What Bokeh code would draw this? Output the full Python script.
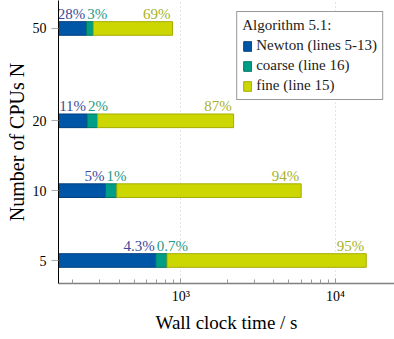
from bokeh.plotting import figure
from bokeh.models import Range1d, FixedTicker, ColumnDataSource, BasicTickFormatter
from bokeh.core.properties import value
from bokeh.embed import file_html
from bokeh.resources import INLINE

# ---- data ----
cpus = [5, 10, 20, 50]
newton = [690, 326, 248, 245]       # wall clock seconds
coarse = [125, 60, 42, 27]
fine = [14985, 5614, 1905, 612]
newton_pct = ["4.3%", "5%", "11%", "28%"]
coarse_pct = ["0.7%", "1%", "2%", "3%"]
fine_pct = ["95%", "94%", "87%", "69%"]
series_names = ["Newton (lines 5-13)", "coarse (line 16)", "fine (line 15)"]
x_tick_vals = [1000, 10000]
x_tick_text = ["10³", "10⁴"]

# ---- styles ----
FONT = "Liberation Serif"
fills = ["#0056a6", "#009e86", "#ccd600"]
lines = ["#003f7c", "#00745f", "#a6ad00"]
text_cols = ["#3d4b9b", "#1f9a86", "#a8b227"]
bar_f = 1.07
base = 1.0

n_end = newton
c_end = [a + b for a, b in zip(newton, coarse)]
t_end = [a + b for a, b in zip(c_end, fine)]
src = ColumnDataSource(dict(
    cpus=cpus,
    bottom=[c / bar_f for c in cpus],
    top=[c * bar_f for c in cpus],
    base=[base] * len(cpus),
    n_end=n_end, c_end=c_end, t_end=t_end,
    npct=newton_pct, cpct=coarse_pct, fpct=fine_pct,
))

p = figure(width=394, height=339, x_axis_type="log", y_axis_type="log",
           x_range=Range1d(162, 24060), y_range=Range1d(3.98, 66.0),
           output_backend="svg", toolbar_location=None,
           min_border_left=58, min_border_right=0, min_border_top=0,
           min_border_bottom=56)
p.outline_line_color = None
p.background_fill_color = "white"

lefts = ["base", "n_end", "c_end"]
rights = ["n_end", "c_end", "t_end"]
for i in range(3):
    p.quad(left=lefts[i], right=rights[i], bottom="bottom", top="top", source=src,
           fill_color=fills[i], line_color=lines[i], line_width=1,
           legend_label=series_names[i])

common = dict(source=src, y="top", text_font=value(FONT), text_font_size="15px",
              text_baseline="bottom", y_offset=0)
p.text(x="n_end", text="npct", text_align="right", x_offset=-1,
       text_color=text_cols[0], **common)
p.text(x="n_end", text="cpct", text_align="left", x_offset=1,
       text_color=text_cols[1], **common)
p.text(x="t_end", text="fpct", text_align="right", x_offset=-2,
       text_color=text_cols[2], **common)

# x axis
xa = p.xaxis[0]
xa.ticker = FixedTicker(ticks=x_tick_vals,
                        minor_ticks=[m * 10 ** e for e in (2, 3) for m in range(2, 10)])
xa.major_label_overrides = {v: t for v, t in zip(x_tick_vals, x_tick_text)}
xa.axis_label = "Wall clock time / s"
xa.axis_line_color = "#808080"
xa.axis_line_width = 1.5
xa.major_tick_in = 5
xa.major_tick_out = 0
xa.minor_tick_in = 4
xa.minor_tick_out = 0
xa.major_tick_line_color = "#999999"
xa.minor_tick_line_color = "#999999"
xa.major_label_standoff = 5
xa.axis_label_standoff = 5
xa.axis_label_text_font_size = "19px"

# y axis
ya = p.yaxis[0]
ya.ticker = FixedTicker(ticks=cpus, minor_ticks=[])
ya.formatter = BasicTickFormatter()
ya.axis_label = "Number of CPUs N"
ya.axis_line_color = "black"
ya.major_tick_in = 0
ya.major_tick_out = 7
ya.major_tick_line_color = "#aaaaaa"
ya.major_label_standoff = 5
ya.axis_label_standoff = 2
ya.axis_label_text_font_size = "20px"

for ax in (xa, ya):
    ax.major_label_text_font = FONT
    ax.major_label_text_font_size = "14px"
    ax.major_label_text_color = "black"
    ax.axis_label_text_font = FONT
    ax.axis_label_text_font_style = "normal"
    ax.axis_label_text_color = "black"

p.xgrid.grid_line_color = "#c8c8c8"
p.xgrid.grid_line_dash = "1 3"
p.xgrid.ticker = FixedTicker(ticks=x_tick_vals)
p.ygrid.grid_line_color = None

lg = p.legend[0]
lg.title = "Algorithm 5.1:"
lg.title_text_font = FONT
lg.title_text_font_size = "15px"
lg.title_text_font_style = "normal"
lg.title_text_color = "#222222"
lg.title_standoff = 3
lg.label_text_font = FONT
lg.label_text_font_size = "15px"
lg.label_text_color = "#222222"
lg.location = "top_right"
lg.margin = 11
lg.padding = 5
lg.spacing = 3
lg.label_height = 17
lg.glyph_width = 10
lg.glyph_height = 12
lg.label_standoff = 4
lg.border_line_color = "#333333"
lg.border_line_width = 1
lg.background_fill_alpha = 1.0

open("out.html", "w").write(file_html(p, INLINE))
